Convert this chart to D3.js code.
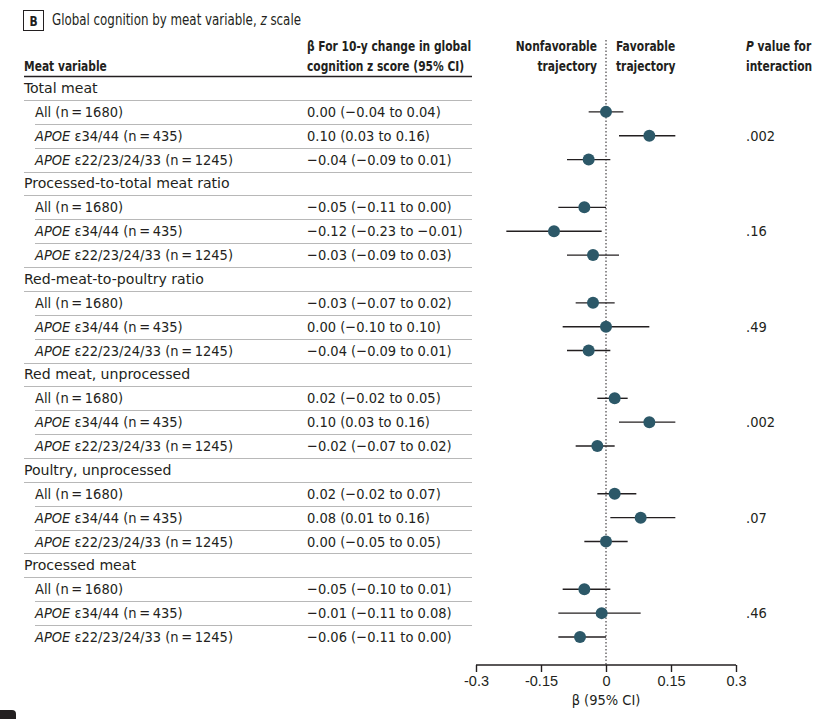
<!DOCTYPE html>
<html lang="en">
<head>
<meta charset="utf-8">
<title>Global cognition by meat variable</title>
<script src="https://cdnjs.cloudflare.com/ajax/libs/d3/7.8.5/d3.min.js"></script>
<style>
  html, body {margin: 0; padding: 0; background: #fff;}
  svg {font-family: "DejaVu Sans Condensed", "Liberation Sans Narrow", sans-serif; fill: #231f20;}
  .bold {font-weight: bold;}
</style>
</head>
<body>
<svg id="chart" width="831" height="719"></svg>
<script>
  var groups = ['Total meat', 'Processed-to-total meat ratio', 'Red-meat-to-poultry ratio',
    'Red meat, unprocessed', 'Poultry, unprocessed', 'Processed meat'];
  var subgroups = [
    {pre: '', rest: 'All (n\u2009=\u20091680)'},
    {pre: 'APOE', rest: ' \u03b534/44 (n\u2009=\u2009435)'},
    {pre: 'APOE', rest: ' \u03b522/23/24/33 (n\u2009=\u20091245)'}
  ];
  // one row of three per group: All, e34/44, e22/23/24/33
  var beta = [
    [0.00, 0.10, -0.04],
    [-0.05, -0.12, -0.03],
    [-0.03, 0.00, -0.04],
    [0.02, 0.10, -0.02],
    [0.02, 0.08, 0.00],
    [-0.05, -0.01, -0.06]
  ];
  var lower = [
    [-0.04, 0.03, -0.09],
    [-0.11, -0.23, -0.09],
    [-0.07, -0.10, -0.09],
    [-0.02, 0.03, -0.07],
    [-0.02, 0.01, -0.05],
    [-0.10, -0.11, -0.11]
  ];
  var upper = [
    [0.04, 0.16, 0.01],
    [0.00, -0.01, 0.03],
    [0.02, 0.10, 0.01],
    [0.05, 0.16, 0.02],
    [0.07, 0.16, 0.05],
    [0.01, 0.08, 0.00]
  ];
  var pValues = ['.002', '.16', '.49', '.002', '.07', '.46'];
  var xTicks = [-0.3, -0.15, 0, 0.15, 0.3];

  var svg = d3.select('#chart');
  var x = d3.scaleLinear().domain([-0.3, 0.3]).range([476, 736]);
  var rowY = d3.scaleLinear().domain([0, 23]).range([88, 637]);
  var fs = 14.5;

  function fmt(v) {
    return (v < 0 ? '\u2212' : '') + Math.abs(v).toFixed(2);
  }

  // squeezed text (the original face is narrower than anything installed)
  function narrow(parent, px, py, sx, anchor) {
    return parent.append('text')
      .attr('transform', 'translate(' + px + ',' + py + ') scale(' + sx + ',1)')
      .attr('text-anchor', anchor || 'start');
  }

  // title
  svg.append('rect').attr('x', 23.5).attr('y', 10.5).attr('width', 20).attr('height', 20)
    .attr('fill', 'none').attr('stroke', '#231f20');
  narrow(svg, 33.5, 25.5, 0.85, 'middle').attr('class', 'bold').attr('font-size', 14).text('B');
  var tt = narrow(svg, 52, 25, 0.88).attr('font-size', 15);
  tt.append('tspan').text('Global cognition by meat variable, ');
  tt.append('tspan').attr('font-style', 'italic').text('z');
  tt.append('tspan').text(' scale');

  // headers
  var hd = svg.append('g').attr('class', 'bold').attr('font-size', fs);
  var sb = 0.82;
  narrow(hd, 24, 71, sb).text('Meat variable');
  narrow(hd, 307, 51, sb).text('\u03b2 For 10-y change in global');
  narrow(hd, 307, 71, sb).text('cognition z score (95% CI)');
  narrow(hd, 597, 51, sb, 'end').text('Nonfavorable');
  narrow(hd, 597, 71, sb, 'end').text('trajectory');
  narrow(hd, 616, 51, sb).text('Favorable');
  narrow(hd, 616, 71, sb).text('trajectory');
  var ph = narrow(hd, 746, 51, sb);
  ph.append('tspan').attr('font-style', 'italic').text('P');
  ph.append('tspan').text(' value for');
  narrow(hd, 746, 71, sb).text('interaction');

  svg.append('line').attr('x1', 24).attr('x2', 472).attr('y1', 76.5).attr('y2', 76.5)
    .attr('stroke', '#231f20').attr('stroke-width', 1.5);

  // rows
  var rows = [];
  groups.forEach(function (g, gi) {
    rows.push({type: 'group', label: g, gi: gi});
    subgroups.forEach(function (s, si) {
      rows.push({type: 'sub', gi: gi, si: si, s: s, b: beta[gi][si], lo: lower[gi][si], hi: upper[gi][si]});
    });
  });
  rows.forEach(function (r, i) { r.y = rowY(i); });

  // separator lines
  rows.forEach(function (r, i) {
    if (i === rows.length - 1) return;
    var indent = (r.type === 'sub' && r.si < 2) ? 35 : 24;
    var ly = Math.round((rowY(i) + rowY(i + 1)) / 2) + 0.5;
    svg.append('line').attr('x1', indent).attr('x2', 472).attr('y1', ly).attr('y2', ly)
      .attr('stroke', '#b8b8b8').attr('stroke-width', 1);
  });

  var tg = svg.append('g').attr('font-size', fs);
  rows.forEach(function (r) {
    if (r.type === 'group') {
      narrow(tg, 24, r.y + 5, 1.08).text(r.label);
      return;
    }
    var t = tg.append('text').attr('x', 35).attr('y', r.y + 5);
    if (r.s.pre) t.append('tspan').attr('font-style', 'italic').text(r.s.pre);
    t.append('tspan').text(r.s.rest);
    tg.append('text').attr('x', 307).attr('y', r.y + 5)
      .text(fmt(r.b) + ' (' + fmt(r.lo) + ' to ' + fmt(r.hi) + ')');
    if (r.si === 1) {
      tg.append('text').attr('x', 746).attr('y', r.y + 5).text(pValues[r.gi]);
    }
  });

  // zero reference
  svg.append('line').attr('x1', x(0)).attr('x2', x(0)).attr('y1', 40).attr('y2', 665)
    .attr('stroke', '#231f20').attr('stroke-width', 1).attr('stroke-dasharray', '1.5,2');

  // estimates
  var subs = rows.filter(function (r) { return r.type === 'sub'; });
  svg.append('g').selectAll('line').data(subs).join('line')
    .attr('x1', function (d) { return x(d.lo); })
    .attr('x2', function (d) { return x(d.hi); })
    .attr('y1', function (d) { return d.y; })
    .attr('y2', function (d) { return d.y; })
    .attr('stroke', '#231f20').attr('stroke-width', 1.4);
  svg.append('g').selectAll('circle').data(subs).join('circle')
    .attr('cx', function (d) { return x(d.b); })
    .attr('cy', function (d) { return d.y; })
    .attr('r', 6)
    .attr('fill', '#2c5868');

  // axis
  var ax = svg.append('g').attr('transform', 'translate(0,665)')
    .call(d3.axisBottom(x).tickValues(xTicks).tickSize(7).tickPadding(4)
      .tickFormat(function (d) { return d === 0 ? '0' : (d < 0 ? '-' : '') + Math.abs(d); }));
  ax.select('.domain').attr('d', 'M' + x(-0.3) + ',0H' + x(0.3)).attr('stroke', '#231f20').attr('stroke-width', 1.4);
  ax.selectAll('.tick line').attr('stroke', '#231f20').attr('stroke-width', 1.4);
  ax.selectAll('.tick text').attr('font-size', fs).attr('font-family', null).attr('fill', '#231f20');
  svg.append('text').attr('x', x(0)).attr('y', 705).attr('text-anchor', 'middle')
    .attr('font-size', fs).text('\u03b2 (95% CI)');

  // edge of next panel label
  svg.append('rect').attr('x', -6).attr('y', 710).attr('width', 22).attr('height', 20)
    .attr('rx', 4).attr('fill', '#231f20');
</script>
</body>
</html>
